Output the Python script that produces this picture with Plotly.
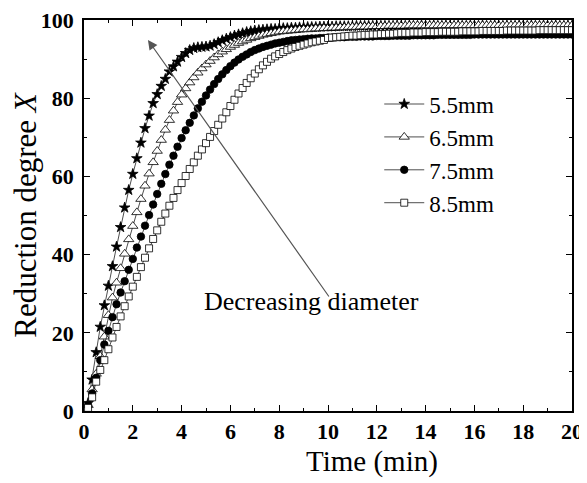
import plotly.graph_objects as go

time = [round(k / 6, 4) for k in range(1, 121)]

labels = ["5.5mm", "6.5mm", "7.5mm", "8.5mm"]

x_55 = [
    2.0, 8.0, 15.0, 21.5, 27.0, 32.0, 37.0, 42.0, 47.0, 52.0, 56.5, 60.6,
    64.6, 68.6, 72.3, 75.5, 78.7, 81.0, 83.1, 84.9, 86.8, 88.1, 89.3, 90.5,
    91.5, 92.3, 92.8, 93.0, 93.1, 93.2, 93.4, 93.8, 94.3, 94.8, 95.2, 95.6,
    96.0, 96.3, 96.6, 96.9, 97.1, 97.3, 97.4, 97.5, 97.6, 97.7, 97.7, 97.8,
    97.9, 97.9, 98.0, 98.0, 98.1, 98.1, 98.2, 98.2, 98.2, 98.3, 98.3, 98.3,
    98.3, 98.4, 98.4, 98.4, 98.4, 98.4, 98.5, 98.5, 98.5, 98.5, 98.5, 98.5,
    98.5, 98.5, 98.5, 98.5, 98.6, 98.5, 98.5, 98.6, 98.5, 98.5, 98.6, 98.5,
    98.5, 98.6, 98.5, 98.5, 98.6, 98.5, 98.5, 98.6, 98.5, 98.5, 98.6, 98.5,
    98.5, 98.6, 98.5, 98.5, 98.6, 98.5, 98.5, 98.6, 98.5, 98.5, 98.6, 98.5,
    98.5, 98.6, 98.5, 98.5, 98.6, 98.5, 98.5, 98.6, 98.5, 98.5, 98.6, 98.5,
]

x_65 = [
    1.5, 5.5, 9.5, 14.0, 19.0, 24.5, 29.0, 32.8, 36.5, 40.2, 43.9, 47.3,
    50.8, 54.2, 57.6, 60.7, 63.6, 66.5, 69.3, 71.9, 74.4, 76.8, 79.0, 80.9,
    82.5, 84.0, 85.3, 86.5, 87.6, 88.6, 89.5, 90.4, 91.2, 91.9, 92.5, 93.1,
    93.6, 94.1, 94.5, 94.9, 95.3, 95.6, 95.9, 96.2, 96.4, 96.6, 96.8, 97.0,
    97.1, 97.2, 97.3, 97.4, 97.5, 97.6, 97.6, 97.7, 97.8, 97.8, 97.9, 97.9,
    98.0, 98.0, 98.1, 98.1, 98.2, 98.2, 98.2, 98.3, 98.3, 98.3, 98.4, 98.4,
    98.4, 98.4, 98.5, 98.5, 98.5, 98.5, 98.5, 98.6, 98.6, 98.6, 98.6, 98.6,
    98.6, 98.6, 98.6, 98.6, 98.6, 98.6, 98.6, 98.6, 98.6, 98.6, 98.6, 98.6,
    98.6, 98.6, 98.6, 98.6, 98.6, 98.6, 98.6, 98.6, 98.6, 98.6, 98.6, 98.6,
    98.6, 98.6, 98.6, 98.6, 98.6, 98.6, 98.6, 98.6, 98.6, 98.6, 98.6, 98.6,
]

x_75 = [
    1.5, 4.5, 8.5, 13.0, 17.0, 20.5, 24.0, 27.3, 30.3, 33.2, 36.1, 38.9,
    41.8, 44.6, 47.4, 50.1, 52.8, 55.5, 58.1, 60.6, 63.0, 65.3, 67.6, 69.8,
    71.8, 73.7, 75.6, 77.4, 79.1, 80.7, 82.2, 83.6, 84.9, 86.1, 87.2, 88.2,
    89.1, 89.9, 90.6, 91.2, 91.8, 92.3, 92.7, 93.1, 93.4, 93.7, 94.0, 94.2,
    94.4, 94.6, 94.8, 94.9, 95.0, 95.1, 95.2, 95.3, 95.3, 95.4, 95.4, 95.5,
    95.5, 95.6, 95.6, 95.6, 95.7, 95.7, 95.7, 95.8, 95.8, 95.8, 95.8, 95.9,
    95.9, 95.9, 95.9, 96.0, 96.0, 96.0, 96.0, 96.0, 96.1, 96.1, 96.1, 96.1,
    96.1, 96.1, 96.2, 96.2, 96.2, 96.2, 96.2, 96.2, 96.2, 96.2, 96.2, 96.3,
    96.3, 96.3, 96.3, 96.3, 96.3, 96.3, 96.3, 96.3, 96.3, 96.3, 96.3, 96.3,
    96.3, 96.3, 96.3, 96.3, 96.3, 96.3, 96.3, 96.3, 96.3, 96.3, 96.3, 96.3,
]

x_85 = [
    0.8, 3.5, 7.5, 10.5, 13.0, 15.8, 18.8, 21.5, 24.2, 26.8, 29.3, 31.8,
    34.3, 36.8, 39.2, 41.6, 44.0, 46.2, 48.4, 50.5, 52.5, 54.5, 56.5, 58.3,
    60.1, 61.9, 63.6, 65.3, 66.9, 68.5, 70.1, 71.6, 73.2, 74.8, 76.4, 78.0,
    79.6, 81.2, 82.6, 83.9, 85.1, 86.3, 87.4, 88.4, 89.3, 90.1, 90.7, 91.3,
    91.8, 92.3, 92.7, 93.1, 93.4, 93.7, 94.0, 94.3, 94.5, 94.7, 94.9, 95.4,
    95.5, 95.6, 95.7, 95.8, 95.9, 96.0, 96.0, 96.1, 96.2, 96.2, 96.3, 96.3,
    96.4, 96.4, 96.5, 96.5, 96.6, 96.7, 96.7, 96.7, 96.8, 96.8, 96.8, 96.9,
    96.9, 96.9, 96.9, 97.0, 97.0, 97.0, 97.0, 97.0, 97.1, 97.1, 97.1, 97.1,
    97.1, 97.2, 97.2, 97.2, 97.2, 97.2, 97.2, 97.3, 97.3, 97.3, 97.3, 97.3,
    97.3, 97.3, 97.3, 97.4, 97.4, 97.4, 97.4, 97.4, 97.4, 97.4, 97.4, 97.4,
]

series = [x_55, x_65, x_75, x_85]
symbols = ["star", "triangle-up", "circle", "square"]
fills = ["black", "white", "black", "white"]
sizes = [8, 9, 7.5, 7]

SERIF = "Liberation Serif"

fig = go.Figure()
for lab, ys, sym, fc, sz in zip(labels, series, symbols, fills, sizes):
    fig.add_trace(go.Scatter(
        x=time, y=ys, name=lab, mode="lines+markers",
        line=dict(color="black", width=0.7),
        marker=dict(symbol=sym, size=sz, color=fc,
                    line=dict(color="black", width=0.8)),
    ))

axis_common = dict(
    showline=True, linecolor="black", linewidth=1.5, mirror="allticks",
    ticks="inside", ticklen=6, tickwidth=1.2, tickcolor="black",
    showgrid=False, zeroline=False, automargin=False,
    ticklabeloverflow="allow",
    tickfont=dict(family=SERIF, size=22, color="black", weight="bold"),
)

fig.update_xaxes(
    range=[0, 20], dtick=2, tick0=0,
    minor=dict(ticks="inside", ticklen=3, dtick=1, tickcolor="black", tickwidth=1),
    **axis_common,
)
fig.update_yaxes(
    range=[0, 100], dtick=20, tick0=0, ticklabelstandoff=4,
    minor=dict(ticks="inside", ticklen=3, dtick=10, tickcolor="black", tickwidth=1),
    title=dict(text="Reduction degree <i>X</i>", font=dict(family=SERIF, size=31, color="black"), standoff=4),
    **axis_common,
)

# x-axis title (placed right of centre, as in the reference)
fig.add_annotation(
    x=0.59, y=-0.13, xref="paper", yref="paper", yanchor="middle",
    text="Time (min)", showarrow=False,
    font=dict(family=SERIF, size=29, color="black"),
)

fig.add_annotation(
    x=2.62, y=94.9, ax=10.08, ay=28.9,
    xref="x", yref="y", axref="x", ayref="y",
    text="", showarrow=True, arrowhead=2, arrowsize=1.6, arrowwidth=1.2,
    arrowcolor="#555555",
)
fig.add_annotation(
    x=0.467, y=0.238, xref="paper", yref="paper",
    text="Decreasing diameter", showarrow=False,
    font=dict(family=SERIF, size=26, color="black"),
)

fig.update_layout(
    width=579, height=475,
    margin=dict(l=76, r=15, t=12, b=72),
    paper_bgcolor="white", plot_bgcolor="white",
    legend=dict(
        x=0.605, y=0.84, xanchor="left", yanchor="top",
        font=dict(family=SERIF, size=23, color="black"),
        bgcolor="rgba(0,0,0,0)", itemwidth=40, tracegroupgap=4,
    ),
)

fig.write_html("out.html")
